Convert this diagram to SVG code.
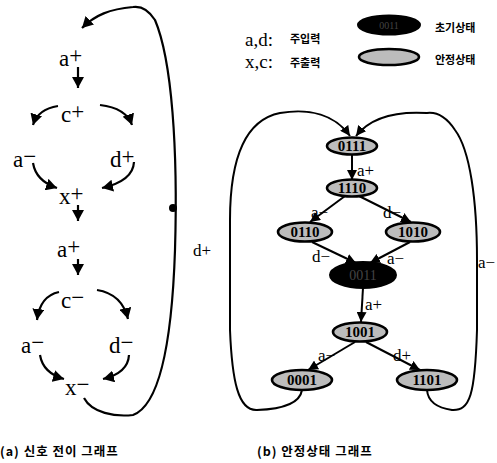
<svg xmlns="http://www.w3.org/2000/svg" width="497" height="463" viewBox="0 0 497 463">
  <defs>
    <marker id="head" markerUnits="userSpaceOnUse" markerWidth="12" markerHeight="12" refX="11" refY="6" orient="auto">
      <path d="M0,0 L11,6 L0,12 z" fill="#000"/>
    </marker>
    <marker id="headS" markerUnits="userSpaceOnUse" markerWidth="11" markerHeight="10" refX="10" refY="5" orient="auto">
      <path d="M0,0 L10,5 L0,10 z" fill="#000"/>
    </marker>
  </defs>
  <style>
    .sig { font-family: "Liberation Serif", "DejaVu Serif", serif; font-size: 23px; fill: #000; }
    .lbl { font-family: "Liberation Serif", "DejaVu Serif", serif; font-size: 17px; fill: #000; }
    .leg { font-family: "Liberation Serif", "DejaVu Serif", serif; font-size: 19px; fill: #000; }
    .kr { font-family: "Noto Sans CJK KR", "Noto Sans", sans-serif; font-size: 11px; font-weight: bold; fill: #000; }
    .title { font-family: "Noto Sans CJK KR", "Noto Sans", sans-serif; font-size: 12.5px; font-weight: bold; fill: #000; letter-spacing: 1px; }
    .arc { fill: none; stroke: #000; stroke-width: 2.2; }
    .edge { fill: none; stroke: #000; stroke-width: 2; }
    .st { fill: #bcbcbc; stroke: #000; stroke-width: 2.6; }
    .init { fill: #000; stroke: #000; stroke-width: 2; }
    .code { font-family: "Liberation Serif", "DejaVu Serif", serif; font-size: 15px; font-weight: bold; fill: #000; text-anchor: middle; }
    .codeDark { font-family: "Liberation Serif", "DejaVu Serif", serif; font-size: 14px; fill: #444; text-anchor: middle; }
  </style>

  <!-- (a) signal transition graph -->
  <g id="stg-connectors">
    <line class="arc" x1="78" y1="67" x2="78" y2="88" marker-end="url(#head)"/>
    <path class="arc" d="M58,106 Q38,109 33,125" marker-end="url(#head)"/>
    <path class="arc" d="M100,105 Q126,108 132,125" marker-end="url(#head)"/>
    <path class="arc" d="M33,163 Q36,181 57,188" marker-end="url(#head)"/>
    <path class="arc" d="M134,162 Q133,181 102,188" marker-end="url(#head)"/>
    <line class="arc" x1="78" y1="205" x2="78" y2="221" marker-end="url(#head)"/>
    <line class="arc" x1="78" y1="259" x2="78" y2="275" marker-end="url(#head)"/>
    <path class="arc" d="M59,292 Q40,296 37,320" marker-end="url(#head)"/>
    <path class="arc" d="M97,290 Q122,294 128,319" marker-end="url(#head)"/>
    <path class="arc" d="M40,355 Q43,373 64,379" marker-end="url(#head)"/>
    <path class="arc" d="M129,355 Q128,373 103,379" marker-end="url(#head)"/>
    <path class="arc" d="M84,398 C92,413 115,417 133,415 C160,405 172,340 175,250 C178,150 172,60 155,20 C148,9 140,6 133,7 C110,9 95,15 82,28" marker-end="url(#head)"/>
    <circle cx="173" cy="208" r="4" fill="#000"/>
  </g>
  <g id="t-a-plus-1"><text class="sig" x="59" y="66">a<tspan dy="-3">+</tspan></text></g>
  <g id="t-c-plus"><text class="sig" x="61" y="122">c<tspan dy="-3">+</tspan></text></g>
  <g id="t-a-minus-1"><text class="sig" x="13" y="167">a<tspan dy="-3">−</tspan></text></g>
  <g id="t-d-plus"><text class="sig" x="110" y="167">d<tspan dy="-3">+</tspan></text></g>
  <g id="t-x-plus"><text class="sig" x="59" y="204">x<tspan dy="-3">+</tspan></text></g>
  <g id="t-a-plus-2"><text class="sig" x="57" y="257">a<tspan dy="-3">+</tspan></text></g>
  <g id="t-c-minus"><text class="sig" x="61" y="308">c<tspan dy="-3">−</tspan></text></g>
  <g id="t-a-minus-2"><text class="sig" x="21" y="353">a<tspan dy="-3">−</tspan></text></g>
  <g id="t-d-minus"><text class="sig" x="109" y="353">d<tspan dy="-3">−</tspan></text></g>
  <g id="t-x-minus"><text class="sig" x="65" y="395">x<tspan dy="-3">−</tspan></text></g>
  <text class="title" x="0" y="456">(a) 신호 전이 그래프</text>

  <!-- legend -->
  <g id="legend">
    <text class="leg" x="245" y="46">a,d:</text>
    <text class="kr" x="290" y="43">주입력</text>
    <text class="leg" x="245" y="68">x,c:</text>
    <text class="kr" x="290" y="67">주출력</text>
    <ellipse class="init" cx="389" cy="25" rx="31" ry="9.5"/>
    <text class="codeDark" x="389" y="29" style="font-size:10px">0011</text>
    <ellipse class="st" cx="389" cy="57" rx="30" ry="8"/>
    <text class="kr" x="435" y="32">초기상태</text>
    <text class="kr" x="435" y="64">안정상태</text>
  </g>

  <!-- (b) stable state graph -->
  <g id="ssg-connectors">
    <line class="edge" x1="352" y1="155" x2="352" y2="180" marker-end="url(#headS)"/>
    <line class="edge" x1="345" y1="196" x2="310" y2="222" marker-end="url(#headS)"/>
    <line class="edge" x1="359" y1="196" x2="411" y2="222" marker-end="url(#headS)"/>
    <line class="edge" x1="312" y1="242" x2="356" y2="263" marker-end="url(#headS)"/>
    <line class="edge" x1="410" y1="242" x2="370" y2="263" marker-end="url(#headS)"/>
    <line class="edge" x1="363" y1="288" x2="361" y2="322" marker-end="url(#headS)"/>
    <line class="edge" x1="355" y1="342" x2="308" y2="370" marker-end="url(#headS)"/>
    <line class="edge" x1="366" y1="342" x2="420" y2="370" marker-end="url(#headS)"/>
    <path class="edge" d="M302,390 C300,403 285,409 257,410 C238,411 232,380 230,330 L230,220 C230,160 245,120 280,113 C310,108 335,115 350,136" marker-end="url(#headS)"/>
    <path class="edge" d="M427,390 C428,402 438,408 452,410 C470,411 475,395 477,330 L477,260 C477,200 470,150 455,130 C445,115 435,112 427,113 C395,111 370,118 356,136" marker-end="url(#headS)"/>
  </g>
  <g id="edge-labels">
    <text class="lbl" x="357" y="176">a+</text>
    <text class="lbl" x="311" y="218">a−</text>
    <text class="lbl" x="383" y="218">d−</text>
    <text class="lbl" x="312" y="262">d−</text>
    <text class="lbl" x="387" y="264">a−</text>
    <text class="lbl" x="365" y="310">a+</text>
    <text class="lbl" x="318" y="361">a−</text>
    <text class="lbl" x="393" y="361">d+</text>
    <text class="lbl" x="193" y="256">d+</text>
    <text class="lbl" x="478" y="268">a−</text>
  </g>
  <g id="s0111"><ellipse class="st" cx="352" cy="146" rx="25" ry="8.5"/><text class="code" x="352" y="151">0111</text></g>
  <g id="s1110"><ellipse class="st" cx="352" cy="188" rx="25" ry="8.5"/><text class="code" x="352" y="193">1110</text></g>
  <g id="s0110"><ellipse class="st" cx="305" cy="232" rx="27" ry="9.5"/><text class="code" x="305" y="237">0110</text></g>
  <g id="s1010"><ellipse class="st" cx="413" cy="232" rx="27" ry="9.5"/><text class="code" x="413" y="237">1010</text></g>
  <g id="s0011"><ellipse class="init" cx="363" cy="275" rx="33" ry="13"/><text class="codeDark" x="363" y="280">0011</text></g>
  <g id="s1001"><ellipse class="st" cx="360" cy="332" rx="27" ry="9.5"/><text class="code" x="360" y="337">1001</text></g>
  <g id="s0001"><ellipse class="st" cx="302" cy="380" rx="30" ry="10"/><text class="code" x="302" y="385">0001</text></g>
  <g id="s1101"><ellipse class="st" cx="427" cy="380" rx="30" ry="10"/><text class="code" x="427" y="385">1101</text></g>
  <text class="title" x="257" y="456">(b) 안정상태 그래프</text>
</svg>
